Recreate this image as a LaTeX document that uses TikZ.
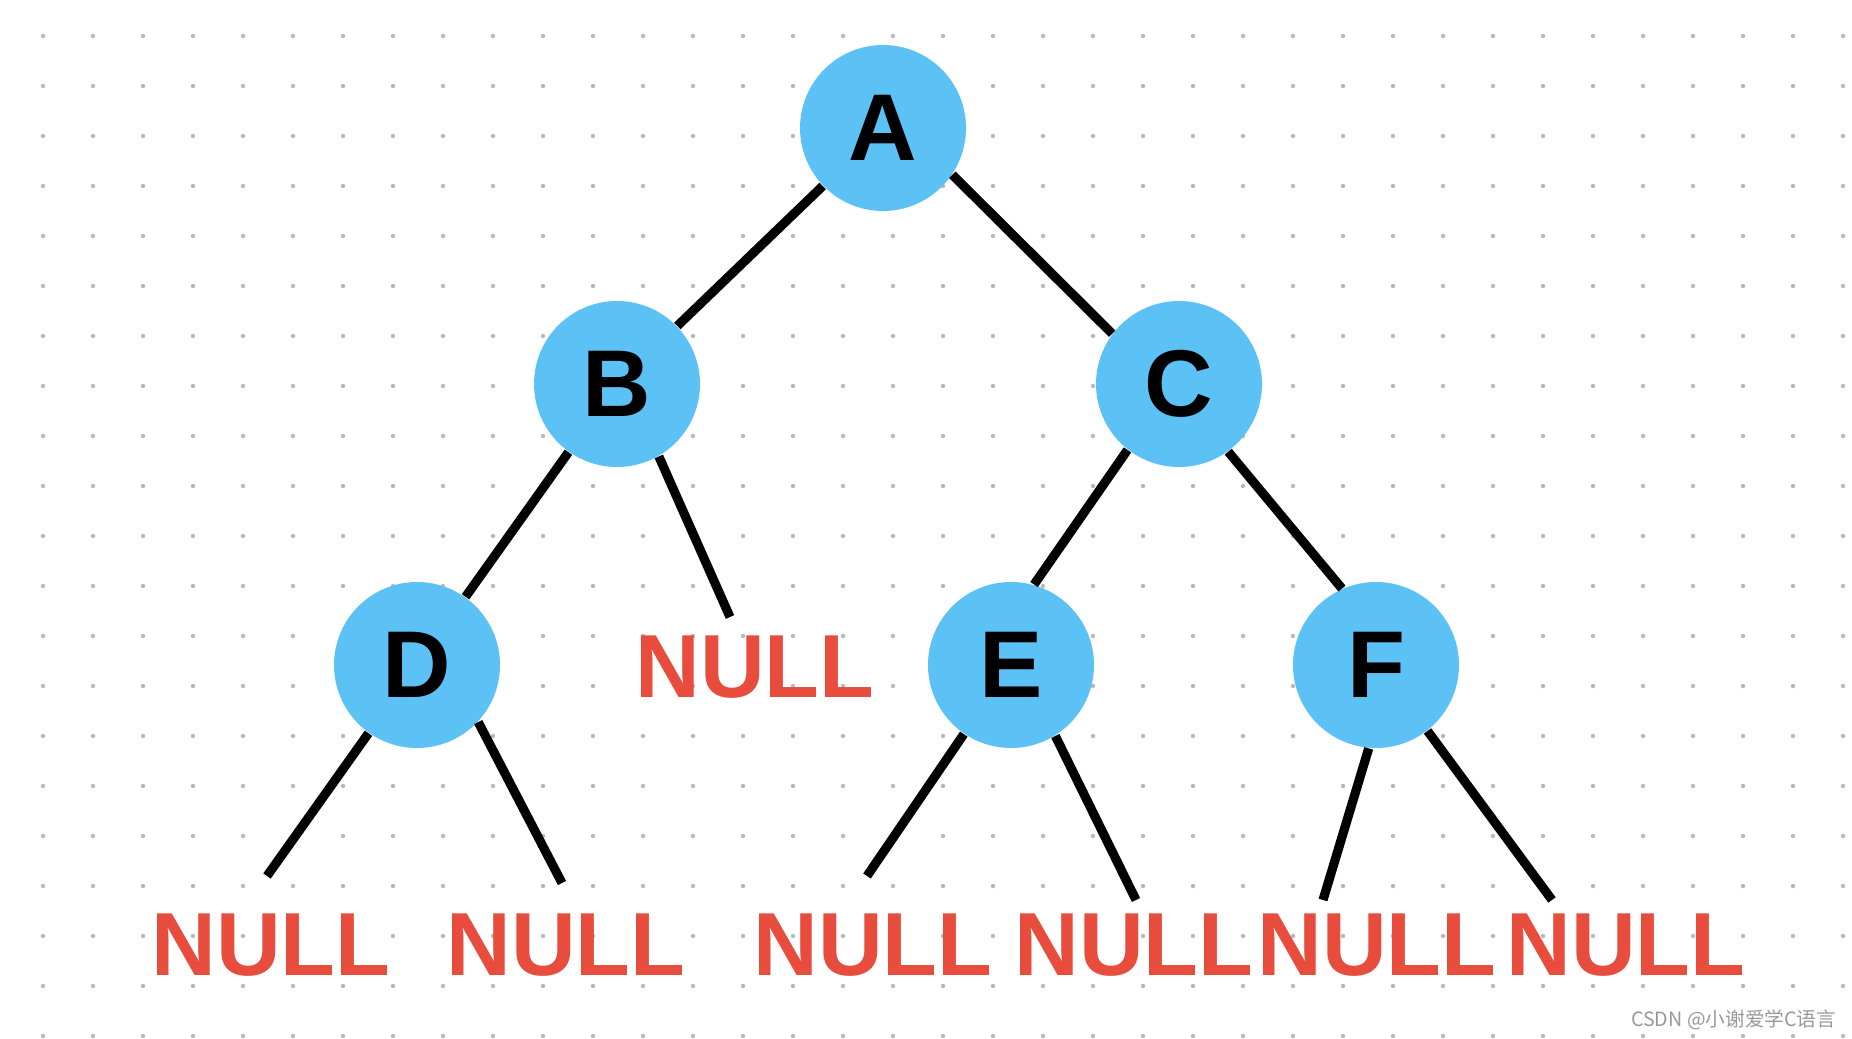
\documentclass[tikz,border=0pt]{standalone}
\usepackage{fontspec}
\setmainfont{Liberation Sans}
\newfontfamily\cjkfont{Noto Sans CJK SC}
\usepackage{xcolor}
\definecolor{skyblue}{RGB}{92, 193, 245}
\definecolor{nullred}{RGB}{231, 76, 61}
\definecolor{dotgray}{RGB}{185, 185, 185}
\usepackage{tikz}
\usetikzlibrary{positioning}
\tikzset{
  vertex/.style = {
    circle,
    fill=skyblue,
    minimum size=16.6mm,
    inner sep=0pt,
    font=\bfseries\fontsize{27}{27}\selectfont,
    text=black
  },
  nulltext/.style = {
    font=\bfseries\fontsize{25.5}{25.5}\selectfont,
    text=nullred,
    inner sep=0pt
  },
  branch/.style = {
    line width=2.6pt,
    black
  },
  griddot/.style = {
    fill=dotgray
  },
  watermark/.style = {
    font=\cjkfont\fontsize{5.6}{5.6}\selectfont,
    text=gray!80,
    inner sep=0pt
  },
}

\begin{document}
\begin{tikzpicture}
    \useasboundingbox (0,0) rectangle (18.52,-10.39);
    \fill[white] (0,0) rectangle (18.52,-10.39);
    \foreach \i in {0,...,36}
      \foreach \j in {0,...,20}
        \fill[griddot] (0.43+0.5*\i, -0.36-0.5*\j) circle (0.022);

    \node[vertex] (A) at (8.83,-1.28) {A};
    \node[vertex] (B) at (6.17,-3.84) {B};
    \node[vertex] (C) at (11.79,-3.84) {C};
    \node[vertex] (D) at (4.17,-6.65) {D};
    \node[vertex] (E) at (10.11,-6.65) {E};
    \node[vertex] (F) at (13.76,-6.65) {F};

    \node[nulltext] (nB)  at (7.55,-6.67)  {NULL};
    \node[nulltext] (nD1) at (2.71,-9.45)  {NULL};
    \node[nulltext] (nD2) at (5.66,-9.45)  {NULL};
    \node[nulltext] (nE1) at (8.73,-9.45)  {NULL};
    \node[nulltext] (nE2) at (11.34,-9.45) {NULL};
    \node[nulltext] (nF1) at (13.77,-9.45) {NULL};
    \node[nulltext] (nF2) at (16.26,-9.45) {NULL};

    \coordinate (tB)  at (7.30,-6.17);
    \coordinate (tD1) at (2.67,-8.76);
    \coordinate (tD2) at (5.62,-8.83);
    \coordinate (tE1) at (8.67,-8.76);
    \coordinate (tE2) at (11.36,-9.00);
    \coordinate (tF1) at (13.23,-9.00);
    \coordinate (tF2) at (15.52,-9.00);

    \draw[branch] (A) -- (B);
    \draw[branch] (A.-34) -- (C.143);
    \draw[branch] (B) -- (D);
    \draw[branch] (B.-60) -- (tB);
    \draw[branch] (C.-128) -- (E.74);
    \draw[branch] (C.-54) -- (F.114);
    \draw[branch] (D) -- (tD1);
    \draw[branch] (D.-43) -- (tD2);
    \draw[branch] (E) -- (tE1);
    \draw[branch] (E.-58) -- (tE2);
    \draw[branch] (F.-95) -- (tF1);
    \draw[branch] (F.-52) -- (tF2);

    \node[watermark, anchor=east] (wm) at (18.37,-10.20) {CSDN @小谢爱学C语言};
\end{tikzpicture}
\end{document}
